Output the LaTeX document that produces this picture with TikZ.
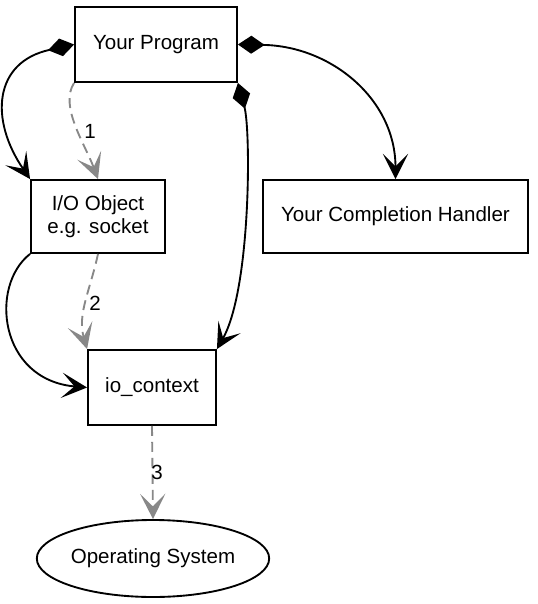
\documentclass[tikz,border=0pt]{standalone}
\usepackage{fontspec}
\setmainfont{Liberation Sans}
\usetikzlibrary{arrows.meta,shapes.geometric}
\definecolor{edgegray}{RGB}{136,136,136}
\tikzset{
  box/.style={draw, line width=1.4pt, rectangle, inner sep=0pt, align=center,
    font=\fontsize{15.4pt}{17pt}\selectfont},
  oval/.style={draw, line width=1.4pt, ellipse, inner sep=0pt,
    font=\fontsize{15.4pt}{17pt}\selectfont},
  vtip/.tip={Stealth[length=19pt,width=19pt,inset=9.5pt]},
  dtip/.tip={Diamond[length=20pt,width=13.5pt]},
  owns/.style={line width=1.4pt, black, {dtip}-{vtip}},
  calls/.style={line width=1.4pt, edgegray, dash pattern=on 7.5pt off 4.5pt, -{vtip}},
  lbl/.style={inner sep=0pt, font=\fontsize{15.4pt}{17pt}\selectfont},
}
\begin{document}
\begin{tikzpicture}[x=0.75pt,y=-0.75pt]
\useasboundingbox (0,0) rectangle (537,604);
\node[box, minimum width=121.5pt, minimum height=56.25pt] (prog) at (156,44.5) {Your Program};
\node[box, minimum width=100.5pt, minimum height=54.75pt] (io) at (98,216.5) {I/O Object\\e.g. socket};
\node[box, minimum width=198.75pt, minimum height=54.75pt] (handler) at (395.5,216.5) {Your Completion Handler};
\node[box, minimum width=96pt, minimum height=56.25pt] (ctx) at (152,387.5) {io\_context};
\node[oval, minimum width=172.5pt, minimum height=57.75pt] (os) at (153,558.5) {Operating System};

\draw[owns] (prog.west) .. controls +(-80,17.5) and +(-41,-60) .. (io.north west);
\draw[calls] (prog.south west) .. controls +(-15,23) and +(-13,-35) .. (io.north);
\draw[owns] (prog.east) .. controls +(93,1.5) and +(0,-80) .. (handler.north);
\draw[owns] (prog.south east) .. controls +(13,48) and +(34,-60) .. (ctx.north east);
\draw[-{vtip}, line width=1.4pt] (io.south west) .. controls +(-41,32) and +(-88,-7.5) .. (ctx.west);
\draw[calls] (io.south) .. controls +(-8,37) and +(-10,-35) .. (ctx.north west);
\draw[calls] (ctx.south) -- (os.north);

\node[lbl] (l1) at (90,131) {1};
\node[lbl] (l2) at (95,303) {2};
\node[lbl] (l3) at (157,472) {3};
\end{tikzpicture}
\end{document}
